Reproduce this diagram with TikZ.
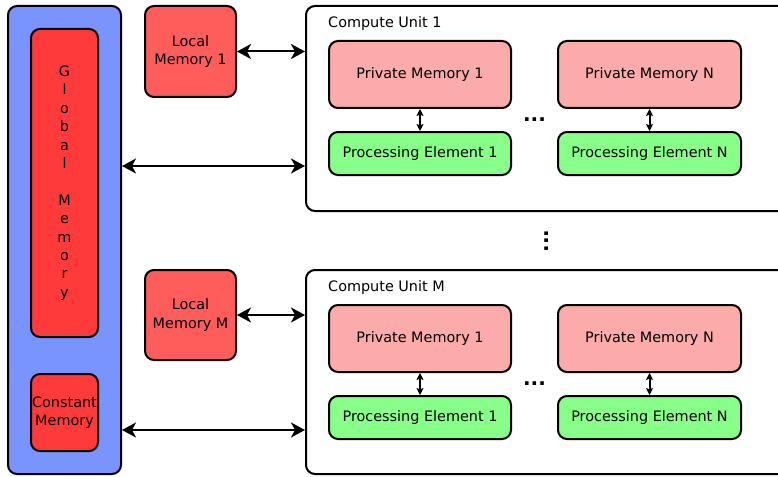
\documentclass[tikz,border=0pt]{standalone}
\usepackage{fontspec}
\setmainfont{DejaVu Sans}
\usetikzlibrary{arrows.meta}
\definecolor{cblue}{RGB}{122,148,255}
\definecolor{cglobal}{RGB}{255,58,58}
\definecolor{clocal}{RGB}{255,92,92}
\definecolor{cpriv}{RGB}{252,171,171}
\definecolor{cpe}{RGB}{136,255,136}
\begin{document}
\begin{tikzpicture}[x=1pt,y=-1pt,
  font=\fontsize{14.4}{18.4}\selectfont,
  box/.style={draw=black, line width=2pt, rounded corners=9pt, inner sep=0pt, align=center},
  bigarrow/.style={line width=2pt, {Stealth[length=14pt,width=15pt,inset=4pt]}-{Stealth[length=14pt,width=15pt,inset=4pt]}},
  smallarrow/.style={line width=2pt, {Stealth[length=7pt,width=7pt,inset=1.5pt]}-{Stealth[length=7pt,width=7pt,inset=1.5pt]}},
  dotstyle/.style={font=\fontsize{20}{20}\bfseries\selectfont, inner sep=0pt}
]
\clip (0,0) rectangle (778,476);
\fill[white] (0,0) rectangle (778,476);

% left column
\node[box, fill=cblue, minimum width=113pt, minimum height=468pt] (outer) at (64.5,240) {};
\node[box, fill=cglobal, minimum width=67pt, minimum height=308pt] (global) at (64.5,183)
  {G\\l\\o\\b\\a\\l\\[18.4pt]M\\e\\m\\o\\r\\y};
\node[box, fill=cglobal, minimum width=67pt, minimum height=77pt, font=\fontsize{14.4}{17.5}\selectfont] (const) at (64.5,412.5) {Constant\\Memory};

% local memories
\node[box, fill=clocal, minimum width=91pt, minimum height=91pt] (l1) at (190.5,51.5) {Local\\Memory 1};
\node[box, fill=clocal, minimum width=91pt, minimum height=90pt] (lm) at (190.5,315) {Local\\Memory M};

% compute unit 1
\node[box, fill=white, minimum width=514pt, minimum height=205pt] (cu1) at (563,108.5) {};
\node[anchor=west, inner sep=0pt] (cu1lab) at (328,23.5) {Compute Unit 1};
\node[box, fill=cpriv, minimum width=182pt, minimum height=67pt] (pm11) at (420,74.5) {Private Memory 1};
\node[box, fill=cpriv, minimum width=183pt, minimum height=67pt] (pm1n) at (649.5,74.5) {Private Memory N};
\node[box, fill=cpe, minimum width=182pt, minimum height=43pt] (pe11) at (420,153.5) {Processing Element 1};
\node[box, fill=cpe, minimum width=183pt, minimum height=43pt] (pe1n) at (649.5,153.5) {Processing Element N};
\node[dotstyle] (dots1) at (534.5,120) {...};

% vertical dots
\node[dotstyle, rotate=90] (vdots) at (546.5,241) {...};

% compute unit M
\node[box, fill=white, minimum width=514pt, minimum height=204pt] (cum) at (563,372) {};
\node[anchor=west, inner sep=0pt] (cumlab) at (328,287.5) {Compute Unit M};
\node[box, fill=cpriv, minimum width=182pt, minimum height=67pt] (pmm1) at (420,338.5) {Private Memory 1};
\node[box, fill=cpriv, minimum width=183pt, minimum height=67pt] (pmmn) at (649.5,338.5) {Private Memory N};
\node[box, fill=cpe, minimum width=182pt, minimum height=43pt] (pem1) at (420,417.5) {Processing Element 1};
\node[box, fill=cpe, minimum width=183pt, minimum height=43pt] (pemn) at (649.5,417.5) {Processing Element N};
\node[dotstyle] (dotsm) at (534.5,384) {...};

% connectors
\coordinate (g1) at (outer.east |- 0,166);
\coordinate (gm) at (outer.east |- 0,430);
\draw[bigarrow] (l1.east) -- (l1.east -| cu1.west);
\draw[bigarrow] (g1) -- (g1 -| cu1.west);
\draw[bigarrow] (lm.east) -- (lm.east -| cum.west);
\draw[bigarrow] (gm) -- (gm -| cum.west);

\draw[smallarrow] (pm11.south) -- (pe11.north);
\draw[smallarrow] (pm1n.south) -- (pe1n.north);
\draw[smallarrow] (pmm1.south) -- (pem1.north);
\draw[smallarrow] (pmmn.south) -- (pemn.north);
\end{tikzpicture}
\end{document}
